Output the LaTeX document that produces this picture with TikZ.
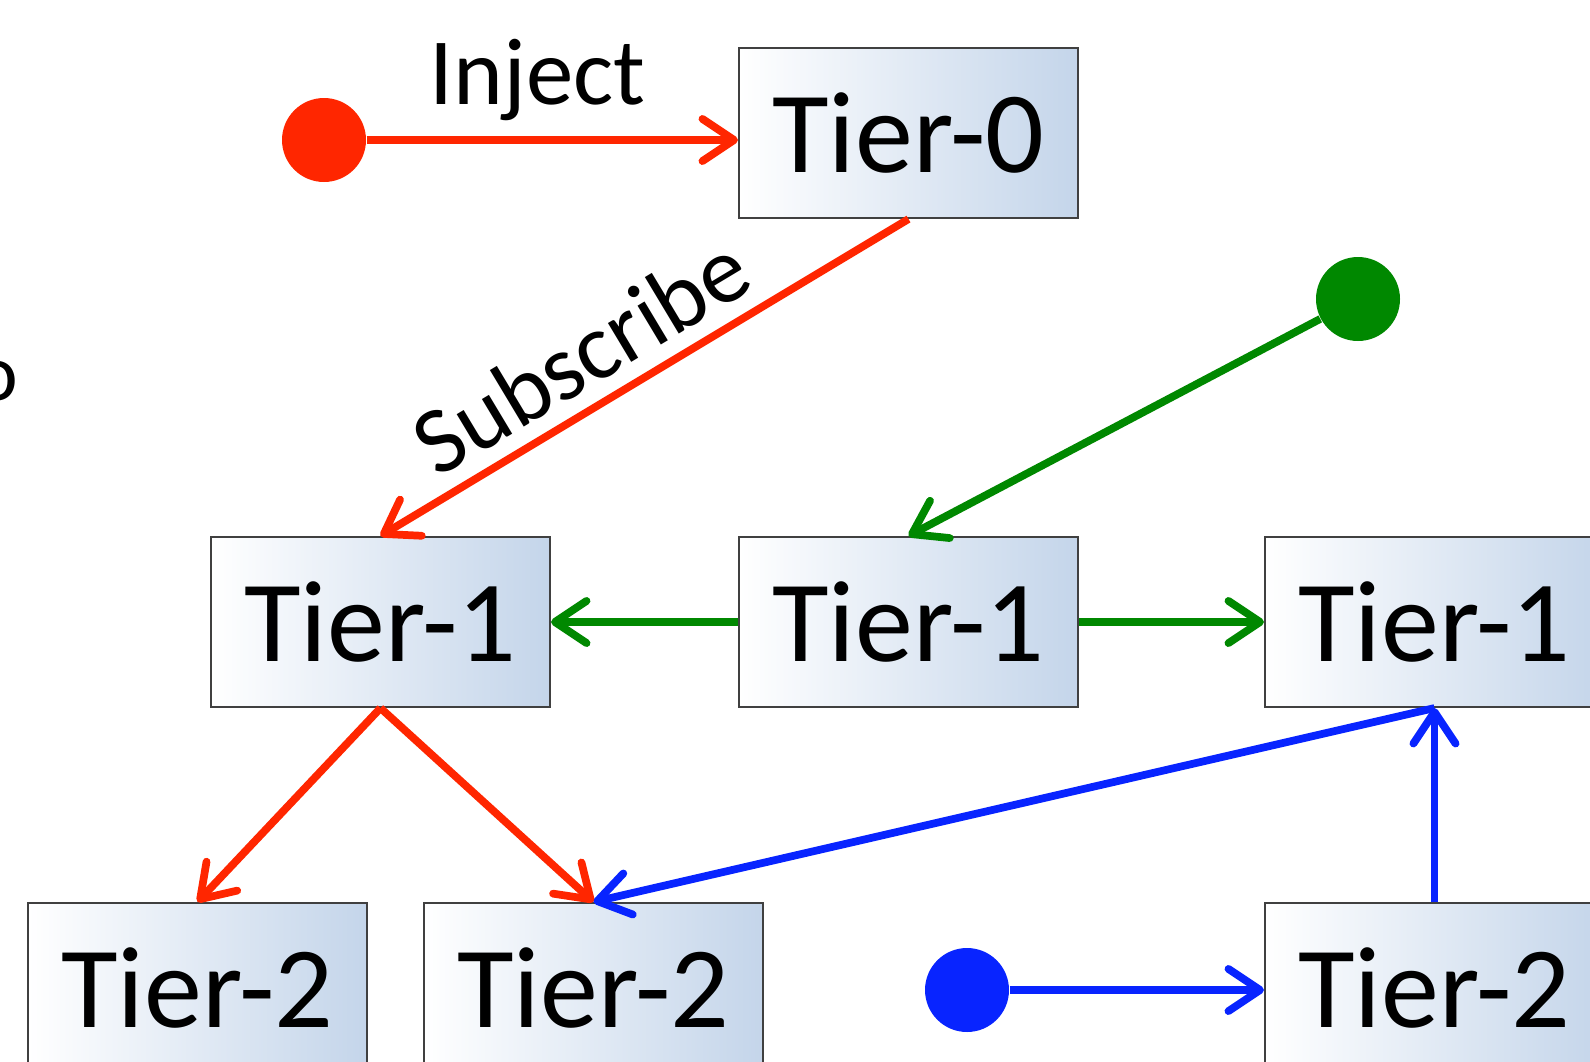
\documentclass[tikz,border=0pt]{standalone}
\usepackage{fontspec}
\setmainfont{Carlito}
\usetikzlibrary{arrows.meta}

\definecolor{injred}{RGB}{255,38,0}
\definecolor{subgreen}{RGB}{0,136,0}
\definecolor{pubblue}{RGB}{8,36,255}
\definecolor{tierblue}{RGB}{196,213,234}

\begin{document}
\begin{tikzpicture}
\tikzset{tier/.style = {draw=black!75, line width=0.6pt, left color=white, right color=tierblue,
    minimum width=3.39cm, minimum height=1.70cm, inner sep=0pt, font=\fontsize{33}{40}\selectfont}}
\tikzset{src/.style = {circle, minimum size=0.84cm, inner sep=0pt}}
\tikzset{edge/.style = {-{Straight Barb[length=9pt,width=12pt,round]}, line width=2.2pt}}
\tikzset{lbl/.style = {text=black, font=\fontsize{27}{32}\selectfont, inner sep=0pt}}

\useasboundingbox (0,0) rectangle (15.9,-10.62);
\clip (0,0) rectangle (15.9,-10.62);

% tiers
\node[tier] (t0) at (9.085,-1.33) {Tier-0};
\node[tier] (t1a) at (3.805,-6.22) {Tier-1};
\node[tier] (t1b) at (9.085,-6.22) {Tier-1};
\node[tier] (t1c) at (14.345,-6.22) {Tier-1};
\node[tier] (t2a) at (1.975,-9.88) {Tier-2};
\node[tier] (t2b) at (5.935,-9.88) {Tier-2};
\node[tier] (t2c) at (14.345,-9.88) {Tier-2};

% sources
\node[src, fill=injred] (rdot) at (3.24,-1.40) {};
\node[src, fill=subgreen] (gdot) at (13.58,-2.99) {};
\node[src, fill=pubblue] (bdot) at (9.67,-9.90) {};

\node[font=\fontsize{23}{28}\selectfont, anchor=base] (cut) at (-0.03,-4.0) {o};

\draw[edge, injred] (rdot) -- node[lbl, pos=0.46, above=0.15cm] (inj) {Inject} (rdot -| t0.west);
\draw[edge, injred] (t0.south) -- node[lbl, pos=0.57, sloped, above=0.15cm] (sub) {Subscribe} (t1a.north);
\draw[edge, injred] (t1a.south) -- (t2a.north);
\draw[edge, injred] (t1a.south) -- (t2b.north);

\draw[edge, subgreen] (gdot) -- (t1b.north);
\draw[edge, subgreen] (t1b.west) -- (t1a.east);
\draw[edge, subgreen] (t1b.east) -- (t1c.west);

\draw[edge, pubblue] (bdot) -- (bdot -| t2c.west);
\draw[edge, pubblue] (t2c.north) -- (t1c.south);
\draw[edge, pubblue] (t1c.south) -- (t2b.north);
\end{tikzpicture}
\end{document}
